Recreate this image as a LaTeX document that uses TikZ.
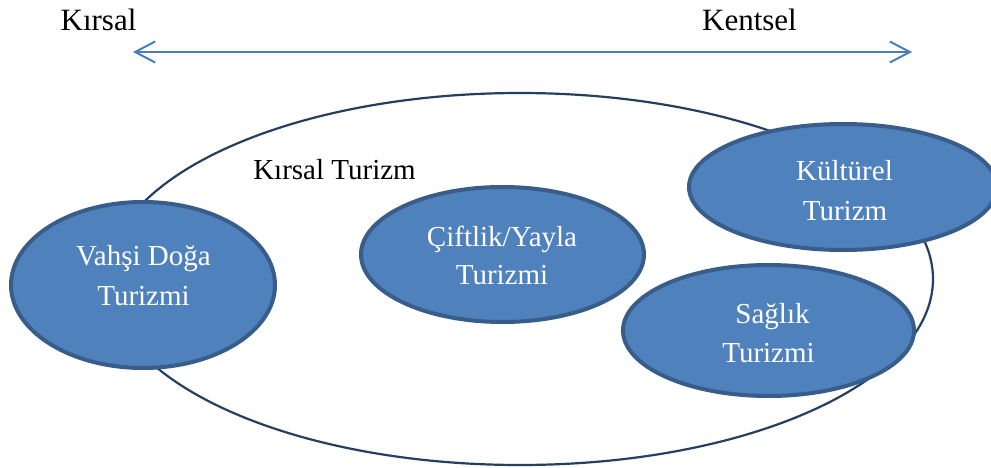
\documentclass[tikz,border=0pt]{standalone}
\usepackage{fontspec}
\setmainfont{Liberation Serif}
\usetikzlibrary{arrows.meta,shapes.geometric}
\definecolor{blobfill}{HTML}{4F81BD}
\definecolor{blobline}{HTML}{385D8A}
\definecolor{outlinecol}{HTML}{243F60}
\definecolor{arrowblue}{HTML}{4A7EBB}
\begin{document}
\begin{tikzpicture}[x=1pt,y=-1pt,
  blob/.style={ellipse, draw=blobline, fill=blobfill, line width=4pt, inner sep=0pt},
  intext/.style={text=white, font=\fontsize{29}{35}\selectfont, anchor=base, inner sep=0pt},
  toptext/.style={text=black, font=\fontsize{31}{37}\selectfont, anchor=base, inner sep=0pt},
  midtext/.style={text=black, font=\fontsize{29}{35}\selectfont, anchor=base, inner sep=0pt},
  tip/.style={Straight Barb[length=20pt,width=21pt]}]
\useasboundingbox (0,0) rectangle (991,468);
\clip (0,0) rectangle (991,468);
\fill[white] (0,0) rectangle (991,468);
% top axis
\node[toptext] (kirsal) at (98.5,31) {Kırsal};
\node[toptext] (kentsel) at (749.5,31) {Kentsel};
\coordinate (axl) at (133,52);
\coordinate (axr) at (912,52);
\draw[arrowblue, line width=2pt, {Straight Barb[length=20pt,width=21pt]}-{Straight Barb[length=20pt,width=21pt]}] (axl) -- (axr);
% big ellipse
\node[ellipse, draw=outlinecol, line width=2.2pt, inner sep=0pt, minimum width=826pt, minimum height=372pt] (rural) at (520,279) {};
\node[midtext] (ruraltxt) at (334.5,179) {Kırsal Turizm};
% small ellipses
\node[blob, minimum width=264pt, minimum height=166pt] (vahsi) at (143,285) {};
\node[blob, minimum width=283pt, minimum height=135pt] (ciftlik) at (502.5,254.5) {};
\node[blob, minimum width=308pt, minimum height=126pt] (kultur) at (843,187) {};
\node[blob, minimum width=291pt, minimum height=131pt] (saglik) at (768.5,330.5) {};
% texts
\node[intext] (vahsi1) at (143.5,265) {Vahşi Doğa};
\node[intext] (vahsi2) at (143.5,305) {Turizmi};
\node[intext] (ciftlik1) at (502,246) {Çiftlik/Yayla};
\node[intext] (ciftlik2) at (502,284) {Turizmi};
\node[intext] (kultur1) at (844.5,181) {Kültürel};
\node[intext] (kultur2) at (845,220) {Turizm};
\node[intext] (saglik1) at (772.5,323) {Sağlık};
\node[intext] (saglik2) at (768.5,362) {Turizmi};
\end{tikzpicture}
\end{document}
